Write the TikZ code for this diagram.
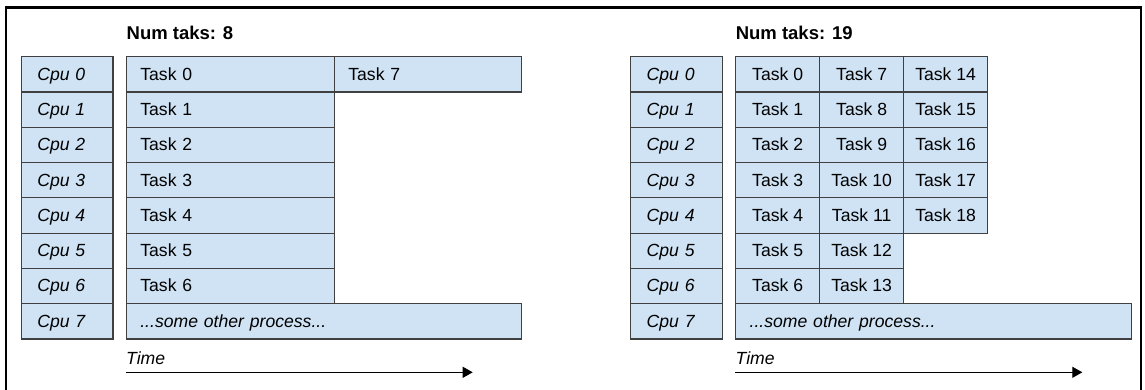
\documentclass[tikz,border=0pt]{standalone}
\usepackage{fontspec}
\setmainfont{Liberation Sans}
\usetikzlibrary{arrows.meta, positioning}
\definecolor{cellblue}{RGB}{207,227,244}
\definecolor{cellline}{RGB}{64,64,64}

\begin{document}
\begin{tikzpicture}[x=1pt, y=-1pt,
  every node/.style={font=\fontsize{17.6}{20}\selectfont},
  cell/.style={draw=cellline, fill=cellblue, line width=1.3pt, anchor=north west,
    minimum height=35.3pt, inner ysep=0pt, text height=12.6pt, text depth=1pt},
  cpu/.style={cell, font=\fontsize{17.6}{20}\selectfont\itshape, inner xsep=16pt, align=left},
  tleft/.style={cell, inner xsep=14pt, align=left},
  tmid/.style={cell, inner xsep=0pt, minimum width=84pt},
  title/.style={font=\fontsize{18.5}{20}\selectfont\bfseries, anchor=base west, inner sep=0pt},
  timelbl/.style={font=\fontsize{17.6}{20}\selectfont\itshape, anchor=base west, inner sep=0pt},
  timearr/.style={-{Triangle[length=10pt, width=11pt]}, line width=1pt}
]
\useasboundingbox (0,0) rectangle (1145,390);
\draw[line width=2.5pt] (6,392) -- (6,7.5) -- (1141,7.5) -- (1141,392);
\def\rowH{35.3} \def\rowT{56}
% left side, 8 tasks
\node[title] (ttlA) at (126.5,39.3) {Num taks: 8};
\foreach \i in {0,...,7}{
  \node[cpu, text width=59.5pt] (cpuA\i) at (20.7,{\rowT+\i*\rowH}) {Cpu \i};
}
\foreach \i in {0,...,6}{
  \node[tleft, text width=180pt] (tskA\i) at (125.7,{\rowT+\i*\rowH}) {Task \i};
}
\node[tleft, text width=159.3pt] (tskA7) at (333.7,\rowT) {Task 7};
\node[tleft, text width=367.3pt, font=\fontsize{17.6}{20}\selectfont\itshape] (othA)
  at (125.7,{\rowT+7*\rowH}) {...some other process...};
\node[timelbl] (timA) at (126,364) {Time};
\coordinate (arA0) at (125.7,372.3);
\coordinate (arA1) at (472.7,372.3);
\draw[timearr] (arA0) -- (arA1);
% right side, 19 tasks
\node[title] (ttlB) at (735.6,39.3) {Num taks: 19};
\foreach \i in {0,...,7}{
  \node[cpu, text width=60pt] (cpuB\i) at (630,{\rowT+\i*\rowH}) {Cpu \i};
}
\foreach \i [evaluate=\i as \j using int(\i+7)] in {0,...,6}{
  \node[tmid] (tskB\i) at (735,{\rowT+\i*\rowH}) {Task \i};
  \node[tmid] (tskB\j) at (819,{\rowT+\i*\rowH}) {Task \j};
}
\foreach \i [evaluate=\i as \j using int(\i+14)] in {0,...,4}{
  \node[tmid] (tskB\j) at (903,{\rowT+\i*\rowH}) {Task \j};
}
\node[tleft, text width=368pt, font=\fontsize{17.6}{20}\selectfont\itshape] (othB)
  at (735,{\rowT+7*\rowH}) {...some other process...};
\node[timelbl] (timB) at (735.5,364) {Time};
\coordinate (arB0) at (735,372.3);
\coordinate (arB1) at (1082.3,372.3);
\draw[timearr] (arB0) -- (arB1);
\end{tikzpicture}
\end{document}
